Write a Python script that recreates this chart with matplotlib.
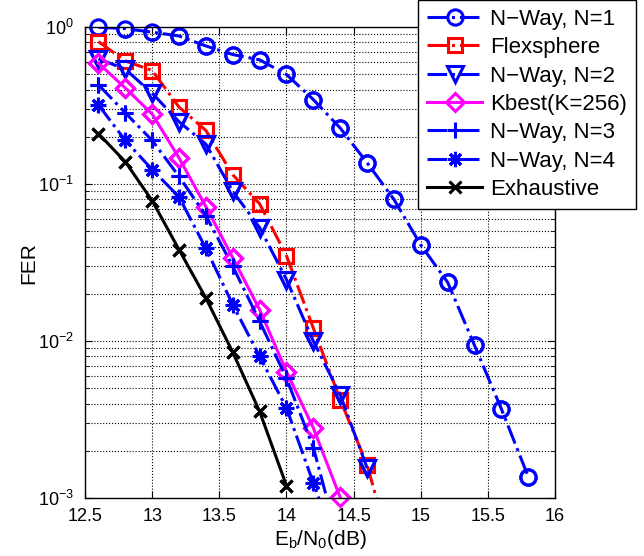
import numpy as np
import matplotlib
matplotlib.use("Agg")
import matplotlib.pyplot as plt

plt.rcParams['font.family'] = ['Liberation Sans', 'DejaVu Sans']

x = [12.6, 12.8, 13.0, 13.2, 13.4, 13.6, 13.8, 14.0, 14.2, 14.4, 14.6, 14.8,
     15.0, 15.2, 15.4, 15.6, 15.8]

nway1 = [1.0, 0.98, 0.93, 0.88, 0.76, 0.67, 0.62, 0.50, 0.346, 0.228, 0.137,
         0.080, 0.041, 0.0237, 0.0094, 0.0037, 0.00137]
flex = [0.81, 0.61, 0.53, 0.31, 0.22, 0.115, 0.075, 0.035, 0.0121, 0.00424,
        0.00163, 0.0004]
nway2 = [0.63, 0.54, 0.38, 0.25, 0.18, 0.090, 0.053, 0.0247, 0.0100, 0.00456,
         0.00156]
kbest = [0.59, 0.41, 0.28, 0.147, 0.072, 0.034, 0.0159, 0.0064, 0.0028, 0.00101]
nway3 = [0.43, 0.285, 0.19, 0.112, 0.063, 0.030, 0.0134, 0.0058, 0.0021, 0.00048]
nway4 = [0.32, 0.19, 0.124, 0.083, 0.039, 0.0171, 0.0080, 0.00375, 0.00125,
         0.00042]
exhaustive = [0.21, 0.139, 0.0785, 0.0383, 0.0188, 0.0085, 0.00357, 0.0012]

labels = ['N\u2212Way, N=1', 'Flexsphere', 'N\u2212Way, N=2', 'Kbest(K=256)',
          'N\u2212Way, N=3', 'N\u2212Way, N=4', 'Exhaustive']

xtick_vals = [12.5, 13, 13.5, 14, 14.5, 15, 15.5, 16]
xtick_labels = ['12.5', '13', '13.5', '14', '14.5', '15', '15.5', '16']

series = [
    (nway1, 'blue', '-.', 'o', 11, 'none'),
    (flex, 'red', '-.', 's', 10, 'none'),
    (nway2, 'blue', '-.', 'v', 12, 'none'),
    (kbest, 'magenta', '-', 'D', 9, 'none'),
    (nway3, 'blue', '-.', '+', 12, 'blue'),
    (nway4, 'blue', '-.', (8, 2, 0), 11, 'blue'),
    (exhaustive, 'black', '-', 'x', 8, 'black'),
]

fig = plt.figure(figsize=(6.44, 5.56), dpi=100)
ax = fig.add_axes([0.132, 0.104, 0.730, 0.847])

ymin, ymax = 1e-3, 1.0
handles = []
for (vals, col, ls, mk, ms, mfc), lab in zip(series, labels):
    xs = np.array(x[:len(vals)])
    ys = np.array(vals)
    h, = ax.plot(xs, ys, color=col, linestyle=ls, linewidth=2.2, marker=mk,
                 markersize=ms, markerfacecolor=mfc, markeredgecolor=col,
                 markeredgewidth=2.2, label=lab)
    handles.append(h)
    inr = (ys >= ymin * 0.999) & (ys <= ymax * 1.001)
    ax.plot(xs[inr], ys[inr], linestyle='none', marker=mk, markersize=ms,
            markerfacecolor=mfc, markeredgecolor=col, markeredgewidth=2.2,
            clip_on=False)

ax.set_yscale('log')
ax.set_xlim(12.5, 16)
ax.set_ylim(ymin, ymax)
ax.set_xticks(xtick_vals)
ax.set_xticklabels(xtick_labels)
ax.grid(True, which='major', linestyle=':', color='black', linewidth=0.8)
ax.grid(True, which='minor', axis='y', linestyle=':', color='black',
        linewidth=0.8)
ax.tick_params(which='both', direction='in', top=True, right=True,
               labelsize=13)
ax.tick_params(axis='x', pad=7)
ax.tick_params(axis='y', pad=8)
ax.tick_params(which='major', length=5)
ax.tick_params(which='minor', length=3)
for sp in ax.spines.values():
    sp.set_linewidth(1.0)

ax.set_xlabel('E$_\\mathregular{b}$/N$_\\mathregular{0}$(dB)', fontsize=15,
              labelpad=2)
ax.set_ylabel('FER', fontsize=15, labelpad=0)

leg = fig.legend(handles=handles, labels=labels, loc='upper left',
                 bbox_to_anchor=(0.649, 1.0), fontsize=16, frameon=True,
                 fancybox=False, edgecolor='black', framealpha=1,
                 handlelength=2.5, handletextpad=0.35, borderpad=0.4,
                 labelspacing=0.33, borderaxespad=0)
leg.get_frame().set_linewidth(1.0)

fig.savefig('out.png', dpi=100)
